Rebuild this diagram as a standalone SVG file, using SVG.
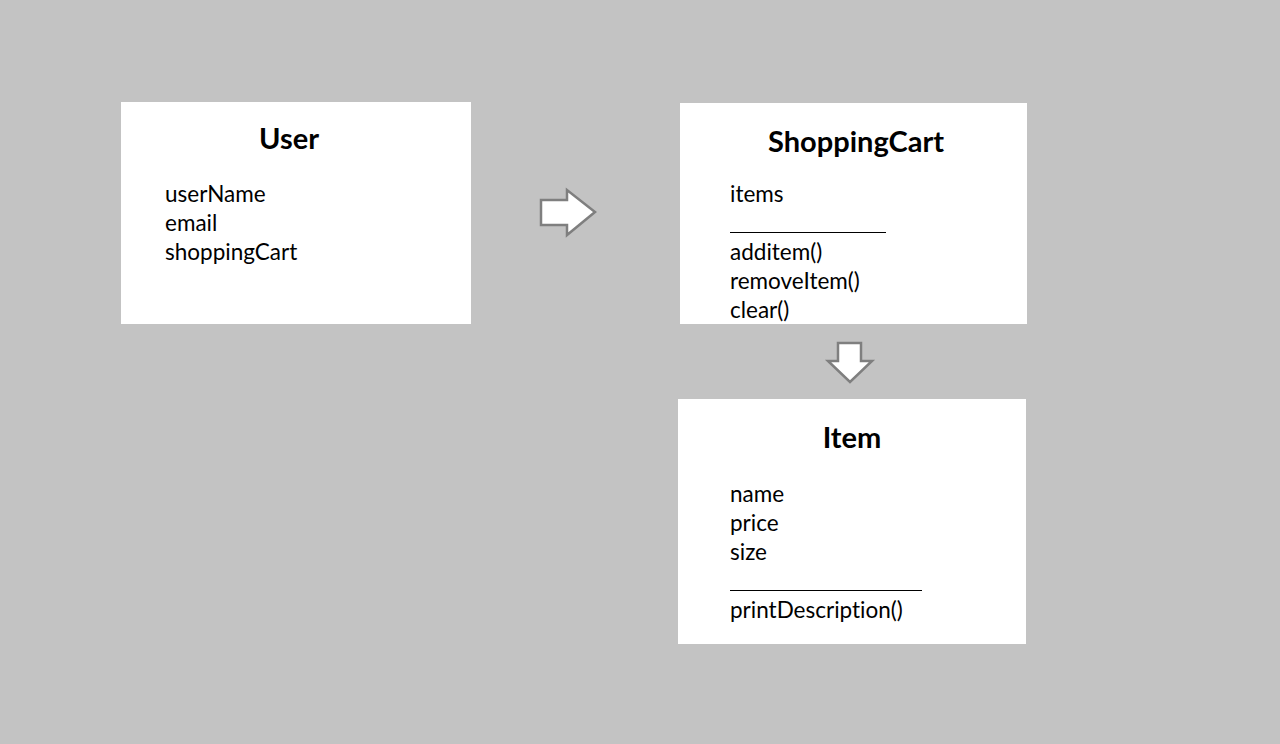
<svg xmlns="http://www.w3.org/2000/svg" width="1280" height="744" viewBox="0 0 1280 744">
<style>
.box{fill:#ffffff;stroke:none}
text{font-family:Lato,"Open Sans","Liberation Sans",sans-serif;font-variant-ligatures:none;fill:#000}
.title{font-weight:bold;font-size:29px;text-anchor:middle}
.attr{font-size:22.5px}
.sep{stroke:#000;stroke-width:1}
.arrow{fill:#ffffff;stroke:#7f7f7f;stroke-width:2.5;stroke-linejoin:miter}
</style>
<rect width="1280" height="744" fill="#c3c3c3"/>
<g id="user">
<rect class="box" x="121" y="102" width="350" height="222"/>
<text class="title" x="289" y="149">User</text>
<text class="attr" x="165" y="201.5">userName</text>
<text class="attr" x="165" y="230.5">email</text>
<text class="attr" x="165" y="259.5">shoppingCart</text>
</g>
<g id="shoppingcart">
<rect class="box" x="680" y="103" width="347" height="221"/>
<text class="title" x="856" y="152">ShoppingCart</text>
<text class="attr" x="730" y="201.5">items</text>
<line class="sep" x1="730" y1="232.5" x2="886" y2="232.5"/>
<text class="attr" x="730" y="259.5">additem()</text>
<text class="attr" x="730" y="288.5">removeItem()</text>
<text class="attr" x="730" y="317.5">clear()</text>
</g>
<g id="item">
<rect class="box" x="678" y="399" width="348" height="245"/>
<text class="title" x="852" y="448">Item</text>
<text class="attr" x="730" y="501.5">name</text>
<text class="attr" x="730" y="530.5">price</text>
<text class="attr" x="730" y="559.5">size</text>
<line class="sep" x1="730" y1="590.5" x2="922" y2="590.5"/>
<text class="attr" x="730" y="617.5">printDescription()</text>
</g>
<g id="connectors">
<polygon class="arrow" points="541,200 567,200 567,190 595,212 567,235 567,225 541,225"/>
<polygon class="arrow" points="838,343 861,343 861,361 872,361 850,382 828,361 838,361"/>
</g>
</svg>
